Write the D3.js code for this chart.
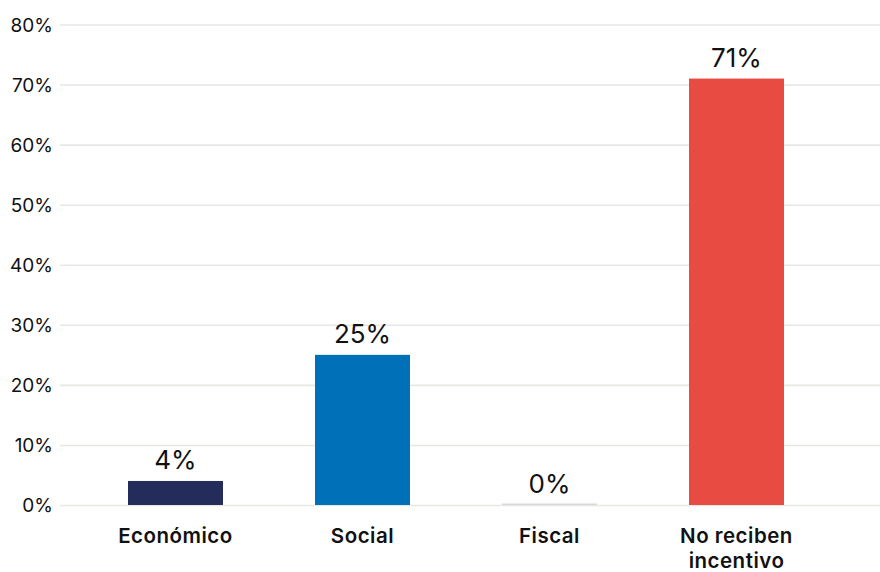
<!DOCTYPE html>
<html>
<head>
<meta charset="utf-8">
<script src="https://cdn.jsdelivr.net/npm/d3@7"></script>
<style>
  html, body { margin: 0; padding: 0; background: #fff; }
  svg { display: block; }
</style>
</head>
<body>
<svg id="chart" width="880" height="572"></svg>
<script>
// Tipo de incentivo recibido (% de respuestas)
const categories = ["Económico", "Social", "Fiscal", "No reciben incentivo"];
const values = [4, 25, 0, 71];
const barColors = ["#232c5a", "#0071b8", "#d9d9d9", "#e84b41"];
const yTicks = [0, 10, 20, 30, 40, 50, 60, 70, 80];

const svg = d3.select("#chart");
const W = 880, H = 572;

const x = d3.scaleBand()
  .domain(categories)
  .range([82, 830])
  .paddingInner(0.492)
  .paddingOuter(0.246);

const y = d3.scaleLinear()
  .domain([0, 80])
  .range([505, 24.5]);

// Horizontal gridlines and left tick labels
const yAxis = d3.axisLeft(y)
  .tickValues(yTicks)
  .tickSize(-(W - 60))
  .tickPadding(7)
  .tickFormat(d => d + "%");

const gy = svg.append("g")
  .attr("transform", "translate(60,0)")
  .call(yAxis);
gy.select(".domain").remove();
gy.selectAll(".tick line")
  .attr("stroke", "#e7e7e4")
  .attr("stroke-width", 1.6);
gy.selectAll(".tick text")
  .attr("fill", "#111")
  .attr("font-family", "Inter, 'Noto Sans', sans-serif")
  .attr("font-size", 19)
  .attr("dy", "0.36em");

// Bars
const minH = 1.5;
svg.append("g")
  .selectAll("rect")
  .data(categories)
  .join("rect")
  .attr("x", d => x(d))
  .attr("width", x.bandwidth())
  .attr("y", (d, i) => Math.min(y(values[i]), y(0) - minH))
  .attr("height", (d, i) => Math.max(y(0) - y(values[i]), minH))
  .attr("fill", (d, i) => barColors[i]);

// Value labels above bars
svg.append("g")
  .selectAll("text")
  .data(categories)
  .join("text")
  .attr("x", d => x(d) + x.bandwidth() / 2)
  .attr("y", (d, i) => y(values[i]) - 12)
  .attr("text-anchor", "middle")
  .attr("fill", "#111")
  .attr("font-family", "Inter, 'Noto Sans', sans-serif")
  .attr("font-size", 26)
  .text((d, i) => values[i] + "%");

// Category labels (wrapped onto two lines where needed)
const catLines = {
  "Económico": ["Económico"],
  "Social": ["Social"],
  "Fiscal": ["Fiscal"],
  "No reciben incentivo": ["No reciben", "incentivo"]
};
const cg = svg.append("g");
categories.forEach(c => {
  const t = cg.append("text")
    .attr("x", x(c) + x.bandwidth() / 2)
    .attr("y", 543)
    .attr("text-anchor", "middle")
    .attr("fill", "#111")
    .attr("font-family", "Inter, 'Noto Sans', sans-serif")
    .attr("font-weight", 600)
    .attr("font-size", 20.5)
    .attr("letter-spacing", 0.5);
  catLines[c].forEach((line, i) => {
    t.append("tspan")
      .attr("x", x(c) + x.bandwidth() / 2)
      .attr("dy", i === 0 ? 0 : 25)
      .text(line);
  });
});
</script>
</body>
</html>
